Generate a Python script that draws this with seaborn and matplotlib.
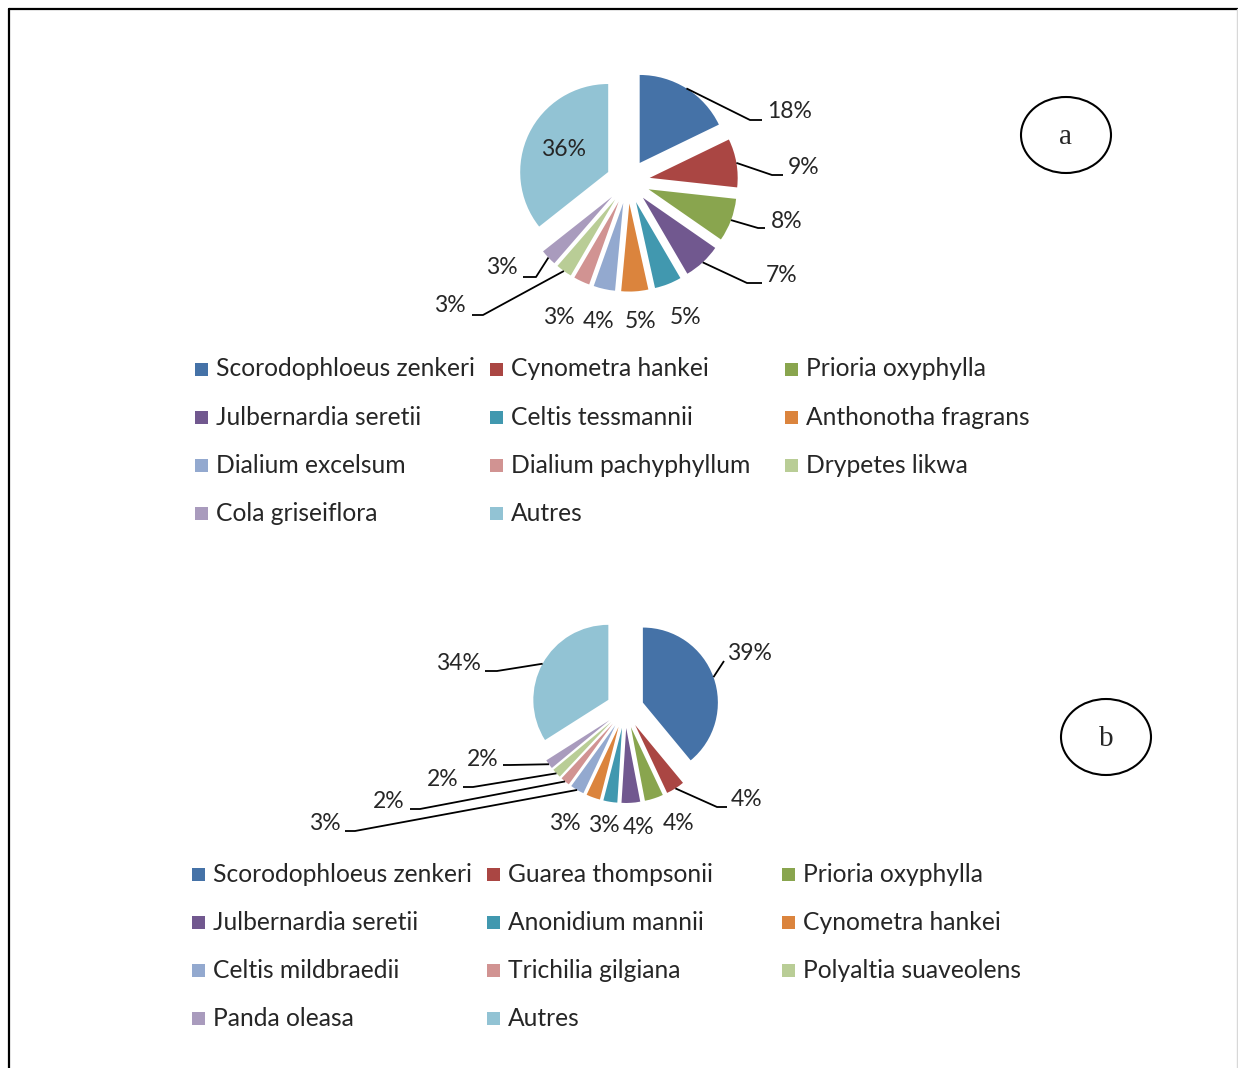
import matplotlib
matplotlib.use("Agg")
import matplotlib.pyplot as plt
from matplotlib.patches import Ellipse, Rectangle
import numpy as np
import seaborn as sns

W, H = 1238, 1068

# ---- data ----
species_a = ["Scorodophloeus zenkeri", "Cynometra hankei", "Prioria oxyphylla",
             "Julbernardia seretii", "Celtis tessmannii", "Anthonotha fragrans",
             "Dialium excelsum", "Dialium pachyphyllum", "Drypetes likwa",
             "Cola griseiflora", "Autres"]
pct_a = [18, 9, 8, 7, 5, 5, 4, 3, 3, 3, 36]

species_b = ["Scorodophloeus zenkeri", "Guarea thompsonii", "Prioria oxyphylla",
             "Julbernardia seretii", "Anonidium mannii", "Cynometra hankei",
             "Celtis mildbraedii", "Trichilia gilgiana", "Polyaltia suaveolens",
             "Panda oleasa", "Autres"]
pct_b = [39, 4, 4, 4, 3, 3, 3, 2, 2, 2, 34]

colors = ["#4572A7", "#AA4643", "#89A54E", "#71588F", "#4198AF", "#DB843D",
          "#93A9CF", "#D19392", "#B9CD96", "#A99BBD", "#92C3D4"]

# label placement (pixel coords, y downward): text x, text y, ha, elbow point, line end x
labels_a = [(767, 112, "left", (750, 120), 762),
            (788, 167, "left", (772, 175), 783),
            (771, 221, "left", (758, 228), 765),
            (766, 276, "left", (747, 283), 762),
            (686, 318, "center", None, None),
            (641, 322, "center", None, None),
            (599, 322, "center", None, None),
            (559, 317, "center", None, None),
            (466, 306, "right", (483, 315), 472),
            (518, 268, "right", (536, 277), 523),
            (564, 150, "center", None, None)]
labels_b = [(727, 653, "left", (724, 661), 724),
            (731, 800, "left", (717, 807), 727),
            (679, 824, "center", None, None),
            (639, 827, "center", None, None),
            (604, 826, "center", None, None),
            (565, 824, "center", None, None),
            (341, 824, "right", (355, 831), 345),
            (404, 802, "right", (420, 809), 410),
            (458, 780, "right", (473, 787), 463),
            (498, 760, "right", (510, 765), 503),
            (481, 663, "right", (497, 671), 485)]

sns.set_style("white")
palette = sns.color_palette(colors)
plt.rcParams["font.family"] = ["Lato", "DejaVu Sans"]

fig = plt.figure(figsize=(W / 100, H / 100), dpi=100)
ax = fig.add_axes([0, 0, 1, 1])


def Y(y):
    return H - y


def draw_pie(values, center, radius, explode, labels):
    # explode is an offset in data units (pixels here)
    wedges, _ = ax.pie(values, explode=[explode] * len(values), startangle=90,
                       counterclock=False, colors=palette, radius=radius,
                       center=(center[0], Y(center[1])),
                       wedgeprops=dict(linewidth=0))
    for w, v, (tx, ty, ha, elbow, endx) in zip(wedges, values, labels):
        if elbow is not None:
            mid = np.deg2rad((w.theta1 + w.theta2) / 2)
            ax0 = w.center[0] + w.r * np.cos(mid)
            ay0 = w.center[1] + w.r * np.sin(mid)
            ax.plot([ax0, elbow[0], endx], [ay0, Y(elbow[1]), Y(elbow[1])],
                    color="black", lw=1.3, solid_capstyle="butt")
        ax.text(tx, Y(ty), f"{v}%", ha=ha, va="center", fontsize=16.5)


def draw_legend(names, x0, y0):
    for i, name in enumerate(names):
        x = x0 + (i % 3) * 295
        y = y0 + (i // 3) * 48.2
        ax.add_patch(Rectangle((x, Y(y) - 6.5), 13, 13, color=palette[i], lw=0))
        ax.text(x + 21, Y(y), name, ha="left", va="center", fontsize=17.7)


draw_pie(pct_a, (628, 181.6), 88, 22, labels_a)
draw_pie(pct_b, (625, 709), 75, 19, labels_b)
draw_legend(species_a, 195, 369)
draw_legend(species_b, 192, 874)

# circled panel letters
for (cx, cy), letter in [((1066, 135), "a"), ((1106, 737), "b")]:
    ax.add_patch(Ellipse((cx, Y(cy)), 90, 76, fill=False, lw=1.5, color="black"))
    ax.text(cx, Y(cy) - 2, letter, ha="center", va="center", fontsize=21,
            family="Liberation Serif")

# frame
ax.plot([9, 9], [0, Y(9)], color="black", lw=1.6)
ax.plot([9, W], [Y(9), Y(9)], color="black", lw=1.6)
ax.plot([W - 1, W - 1], [0, Y(9)], color="#d8d8d8", lw=1)

ax.set_xlim(0, W)
ax.set_ylim(0, H)
ax.set_aspect("auto")
ax.axis("off")

fig.savefig("out.png", dpi=100)
